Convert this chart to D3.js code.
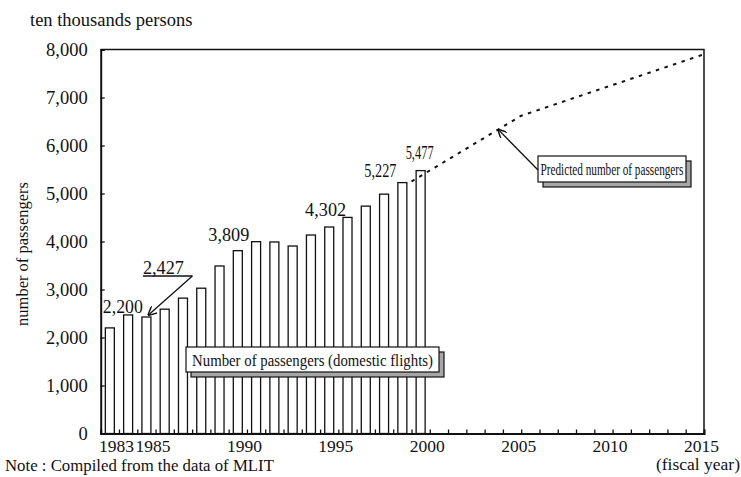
<!DOCTYPE html>
<html><head><meta charset="utf-8">
<script src="https://cdn.jsdelivr.net/npm/d3@7"></script>
<style>
html,body{margin:0;padding:0;background:#fff;}
svg text{font-family:"Liberation Serif","Times New Roman",serif;fill:#111;}
</style></head>
<body><svg id="c" width="741" height="477"></svg>
<script>
const years = [1983,1984,1985,1986,1987,1988,1989,1990,1991,1992,1993,1994,1995,1996,1997,1998,1999,2000];
const passengers = [2200,2470,2427,2590,2820,3027,3490,3809,3996,3990,3906,4135,4302,4502,4737,4986,5227,5477];
const predYears = [1999,2005,2015];
const predValues = [5250,6620,7900];
const yTicks = [0,1000,2000,3000,4000,5000,6000,7000,8000];
const xTickLabels = [1983,1985,1990,1995,2000,2005,2010,2015];
const valueLabels = [
  {year:1983, text:"2,200"},
  {year:1985, text:"2,427"},
  {year:1990, text:"3,809"},
  {year:1995, text:"4,302"},
  {year:1999, text:"5,227"},
  {year:2000, text:"5,477"}
];

const svg = d3.select("#c");
const x = d3.scaleLinear().domain([1982,2015]).range([100.7,704]);
const y = d3.scaleLinear().domain([0,8000]).range([433.5,49.5]);
const stroke = "#111";

// condensed text helper: centred at cx, baseline by, scaled to width w
function fitText(txt, cx, by, w, size){
  const t = svg.append("text").attr("font-size",size).attr("text-anchor","middle").text(txt);
  const nat = t.node().getComputedTextLength();
  const s = Math.min(1, w/nat);
  t.attr("transform",`translate(${cx},${by}) scale(${s},1)`);
  return t;
}

// frame top/right
svg.append("path").attr("d",`M${x(1982)},${y(8000)}H${x(2015)}V${y(0)}`)
  .attr("fill","none").attr("stroke",stroke).attr("stroke-width",1.5);

// bars (centred between year ticks)
const bw = 9;
svg.append("g").selectAll("rect").data(years).join("rect")
  .attr("x",(d)=>x(d-0.5)-bw/2)
  .attr("y",(d,i)=>y(passengers[i]))
  .attr("width",bw)
  .attr("height",(d,i)=>y(0)-y(passengers[i]))
  .attr("fill","#fff").attr("stroke",stroke).attr("stroke-width",1.3);

// y axis
const yAxis = d3.axisLeft(y).tickValues(yTicks).tickSize(-4).tickPadding(13)
  .tickFormat(d3.format(","));
const gy = svg.append("g").attr("transform",`translate(${x(1982)},0)`).call(yAxis);
gy.select(".domain").attr("stroke",stroke).attr("stroke-width",2);
gy.selectAll(".tick line").attr("stroke",stroke).attr("stroke-width",1.3);
gy.selectAll(".tick text").attr("font-size",18.5).attr("fill","#111");

// x axis
const allYears = d3.range(1983,2016);
const xAxis = d3.axisBottom(x).tickValues(allYears).tickSize(-4).tickPadding(6)
  .tickFormat(d=>xTickLabels.includes(d)?String(d):"");
const gx = svg.append("g").attr("transform",`translate(0,${y(0)})`).call(xAxis);
gx.select(".domain").attr("stroke",stroke).attr("stroke-width",2);
gx.selectAll(".tick line").attr("stroke",stroke).attr("stroke-width",1.3);
gx.selectAll(".tick text").attr("font-size",17.5).attr("fill","#111").attr("dx",-3);

// predicted dotted line
const line = d3.line().x(d=>x(d[0])).y(d=>y(d[1]));
svg.append("path").datum(predYears.map((yr,i)=>[yr,predValues[i]]))
  .attr("d",line).attr("fill","none").attr("stroke",stroke)
  .attr("stroke-width",2).attr("stroke-dasharray","3.5,5.5");

// arrow marker
const defs = svg.append("defs");
defs.append("marker").attr("id","ah").attr("viewBox","0 0 10 10")
  .attr("refX",9).attr("refY",5).attr("markerWidth",9).attr("markerHeight",9)
  .attr("markerUnits","userSpaceOnUse").attr("orient","auto")
  .append("path").attr("d","M0,0L10,5L0,10").attr("fill","none").attr("stroke",stroke).attr("stroke-width",1.6);

// value labels
const lblOffsets = {
  1983:{dx:13,dy:-15, len:40},
  1985:{dx:17,dy:-43, len:41},
  1990:{dx:-9,dy:-10, len:41},
  1995:{dx:-3.6,dy:-11, len:41},
  1999:{dx:-22,dy:-5.6, len:32},
  2000:{dx:-1,dy:-11.6, len:28}
};
valueLabels.forEach(l=>{
  const i = years.indexOf(l.year);
  const o = lblOffsets[l.year];
  fitText(l.text, x(l.year-0.5)+o.dx, y(passengers[i])+o.dy, o.len, 18.5);
});
// underline and arrow for 2,427
{
  const i = years.indexOf(1985);
  const bx = x(1985-0.5), by = y(passengers[i]);
  svg.append("line").attr("x1",bx-3.5).attr("x2",bx+46).attr("y1",by-41).attr("y2",by-41)
    .attr("stroke",stroke).attr("stroke-width",1.3);
  svg.append("line").attr("x1",bx+46).attr("y1",by-41).attr("x2",bx+2).attr("y2",by-2)
    .attr("stroke",stroke).attr("stroke-width",1.3).attr("marker-end","url(#ah)");
}

// legend boxes with shadow
function box(x0,y0,w,h,txt,tlen){
  svg.append("rect").attr("x",x0+5).attr("y",y0+5).attr("width",w).attr("height",h)
    .attr("fill","#a6a6a6").attr("stroke",stroke).attr("stroke-width",1.2);
  svg.append("rect").attr("x",x0).attr("y",y0).attr("width",w).attr("height",h)
    .attr("fill","#fff").attr("stroke",stroke).attr("stroke-width",1.2);
  fitText(txt, x0+w/2, y0+h/2+6, tlen, 17);
}
box(186,347,253,25,"Number of passengers (domestic flights)",241);
box(538,156,148,26,"Predicted number of passengers",143);

// arrow to predicted line
svg.append("line").attr("x1",538).attr("y1",170).attr("x2",x(2003.75)).attr("y2",y(6330))
  .attr("stroke",stroke).attr("stroke-width",1.3).attr("marker-end","url(#ah)");

// titles
svg.append("text").attr("x",30).attr("y",26).attr("font-size",18.5).text("ten thousands persons");
svg.append("text").attr("transform","translate(28,254) rotate(-90)")
  .attr("text-anchor","middle").attr("font-size",16.5).text("number of passengers");
svg.append("text").attr("x",5).attr("y",471).attr("font-size",16.8).text("Note : Compiled from the data of MLIT");
svg.append("text").attr("x",740).attr("y",470).attr("text-anchor","end").attr("font-size",17.5).text("(fiscal year)");
</script></body></html>
